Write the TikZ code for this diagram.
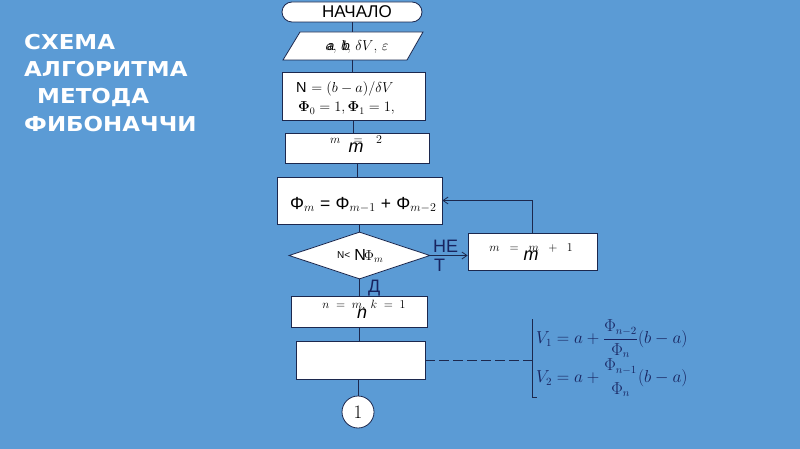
\documentclass[tikz,border=0pt]{standalone}
\usepackage{amsmath}
\usepackage{fontspec}
\newfontfamily\titlefont{DejaVu Sans}
\newfontfamily\arfont{Liberation Sans}
\usetikzlibrary{shapes.geometric,arrows.meta}
\definecolor{bgblue}{RGB}{91,155,213}
\definecolor{linec}{RGB}{28,40,78}
\definecolor{navy}{RGB}{24,36,96}
\newcommand{\smalltxt}[1]{{\fontsize{12.5}{13}\selectfont #1}}
\newcommand{\bigtxt}[1]{{\arfont\itshape\fontsize{18}{19}\selectfont #1}}
\tikzset{
  boxs/.style={draw=linec, fill=white, line width=0.8pt, inner sep=0pt},
  conn/.style={draw=linec, line width=0.8pt},
  arr/.style={conn, -{Straight Barb[length=5pt,width=7pt]}},
  titl/.style={anchor=base west, text=white, font=\titlefont\bfseries\fontsize{20.5}{24}\selectfont, inner sep=0pt, xscale=1.12},
  lbl/.style={text=navy, font=\arfont\fontsize{18}{19}\selectfont, inner sep=0pt, anchor=base west},
  garb/.style={anchor=base, inner sep=0pt},
  frm/.style={anchor=west, text=navy, font=\fontsize{16}{18}\selectfont, inner sep=0pt}
}
\begin{document}
\begin{tikzpicture}[x=1pt,y=-1pt]
\fill[bgblue] (0,0) rectangle (800,449);
\useasboundingbox (0,0) rectangle (800,449);

% title
\node[titl] (t1) at (24,50) {СХЕМА};
\node[titl] (t2) at (24,77) {АЛГОРИТМА};
\node[titl] (t3) at (37,104) {МЕТОДА};
\node[titl] (t4) at (24,132) {ФИБОНАЧЧИ};

% flowchart
\node[boxs, rounded corners=10pt, minimum width=140pt, minimum height=20pt, font=\arfont\fontsize{17}{18}\selectfont] (start) at (352,12) {\kern10pt НАЧАЛО};

% parallelogram
\coordinate (pbl) at (283,60);
\coordinate (pbr) at (407,60);
\coordinate (ptr) at (423,32);
\coordinate (ptl) at (300,32);
\filldraw[boxs] (pbl) -- (pbr) -- (ptr) -- (ptl) -- cycle;
\node[garb, font=\fontsize{15}{16}\selectfont] (para) at (357,51) {\rlap{\kern1.5pt\arfont\itshape\fontsize{13}{14}\selectfont a}$a$, \rlap{\kern1.5pt\arfont\itshape\fontsize{13}{14}\selectfont b}$b$, $\delta V$, $\varepsilon$};

\node[boxs, minimum width=143pt, minimum height=48pt] (b1) at (353.5,96) {};
\node[anchor=base west, font=\fontsize{14.5}{16}\selectfont, inner sep=0pt] (b1a) at (296,93) {{\arfont N} $= (b-a)/\delta V$};
\node[anchor=base west, font=\fontsize{14.5}{16}\selectfont, inner sep=0pt] (b1b) at (298,112) {$\boldsymbol{\Phi}_0 = 1, \boldsymbol{\Phi}_1 = 1,$};

\node[boxs, minimum width=144pt, minimum height=30pt] (b2) at (357,148) {};
\node[garb] (b2t) at (356,153) {\makebox[0pt]{\raisebox{9pt}{\smalltxt{$m\;\;\;=\;\;\;2$}}}\makebox[0pt]{\bigtxt{m}}};

\node[boxs, minimum width=165pt, minimum height=47pt] (b3) at (359.5,200.5) {};
\node[anchor=base west, font=\fontsize{17.5}{19}\selectfont, inner sep=0pt] (b3t) at (290,209) {{\arfont Φ}$_m$ {\arfont =} {\arfont Φ}$_{m-1}$ {\arfont +} {\arfont Φ}$_{m-2}$};

\node[boxs, diamond, aspect=3, minimum width=141pt, minimum height=47pt] (dia) at (359.5,255.5) {};
\node[anchor=base west, inner sep=0pt] (diat) at (337,260) {{\arfont\fontsize{10}{11}\selectfont\raisebox{2pt}{N<}}\kern4pt{\arfont\fontsize{16}{17}\selectfont N}\kern-2pt{\fontsize{14}{15}\selectfont$\Phi_m$}};

\node[boxs, minimum width=129pt, minimum height=37pt] (b4) at (532.5,251.5) {};
\node[garb] (b4t) at (531,260) {\makebox[0pt]{\raisebox{9pt}{\smalltxt{$m\;\;=\;\;m\;\;+\;\;1$}}}\makebox[0pt]{\bigtxt{m}}};

\node[boxs, minimum width=136pt, minimum height=31pt] (b5) at (359,311.5) {};
\node[garb] (b5t) at (364,318) {\makebox[0pt]{\raisebox{10pt}{\smalltxt{$n\;=\;m,\;k\;=\;1$}}}\makebox[0pt]{\kern-4pt\bigtxt{n}}};

\node[boxs, minimum width=129pt, minimum height=38pt] (b6) at (360.5,360) {};
\node[boxs, circle, minimum size=32pt, font=\fontsize{19}{20}\selectfont] (c1) at (358,412) {1};

% connectors
\draw[conn] (start.south) -- (start.south |- ptl);
\draw[conn] (start.south |- pbl) -- (start.south |- b1.north);
\draw[conn] (b1.south) -- (b1.south |- b2.north);
\draw[conn] (b2.south) -- (b2.south |- b3.north);
\draw[conn] (b3.south) -- (b3.south |- dia.north);
\draw[conn] (dia.south) -- (dia.south |- b5.north);
\draw[conn] (b5.south) -- (b5.south |- b6.north);
\draw[conn] (b6.south -| c1.north) -- (c1.north);
\draw[arr] (dia.east) -- (dia.east -| b4.west);
\draw[arr] (b4.north) |- (b3.east);

\node[lbl] (ne) at (433,252) {НЕ};
\node[lbl] (te) at (434,271) {Т};
\node[lbl] (da) at (368,292) {Д};

% bracket and formulas
\coordinate (brtop) at (532,319);
\coordinate (brbot) at (532,397);
\draw[conn, dash pattern=on 10pt off 4pt] (b6.east) -- (b6.east -| brtop);
\draw[conn] (brtop) -- (brbot) -- ++(5,0);
\node[frm] (v1) at (536,339) {$V_1 = a + \dfrac{\Phi_{n-2}}{\Phi_n}(b-a)$};
\node[frm] (v2) at (536,378) {$V_2 = a + \genfrac{}{}{0pt}{0}{\Phi_{n-1}}{\Phi_n}(b-a)$};
\end{tikzpicture}
\end{document}
